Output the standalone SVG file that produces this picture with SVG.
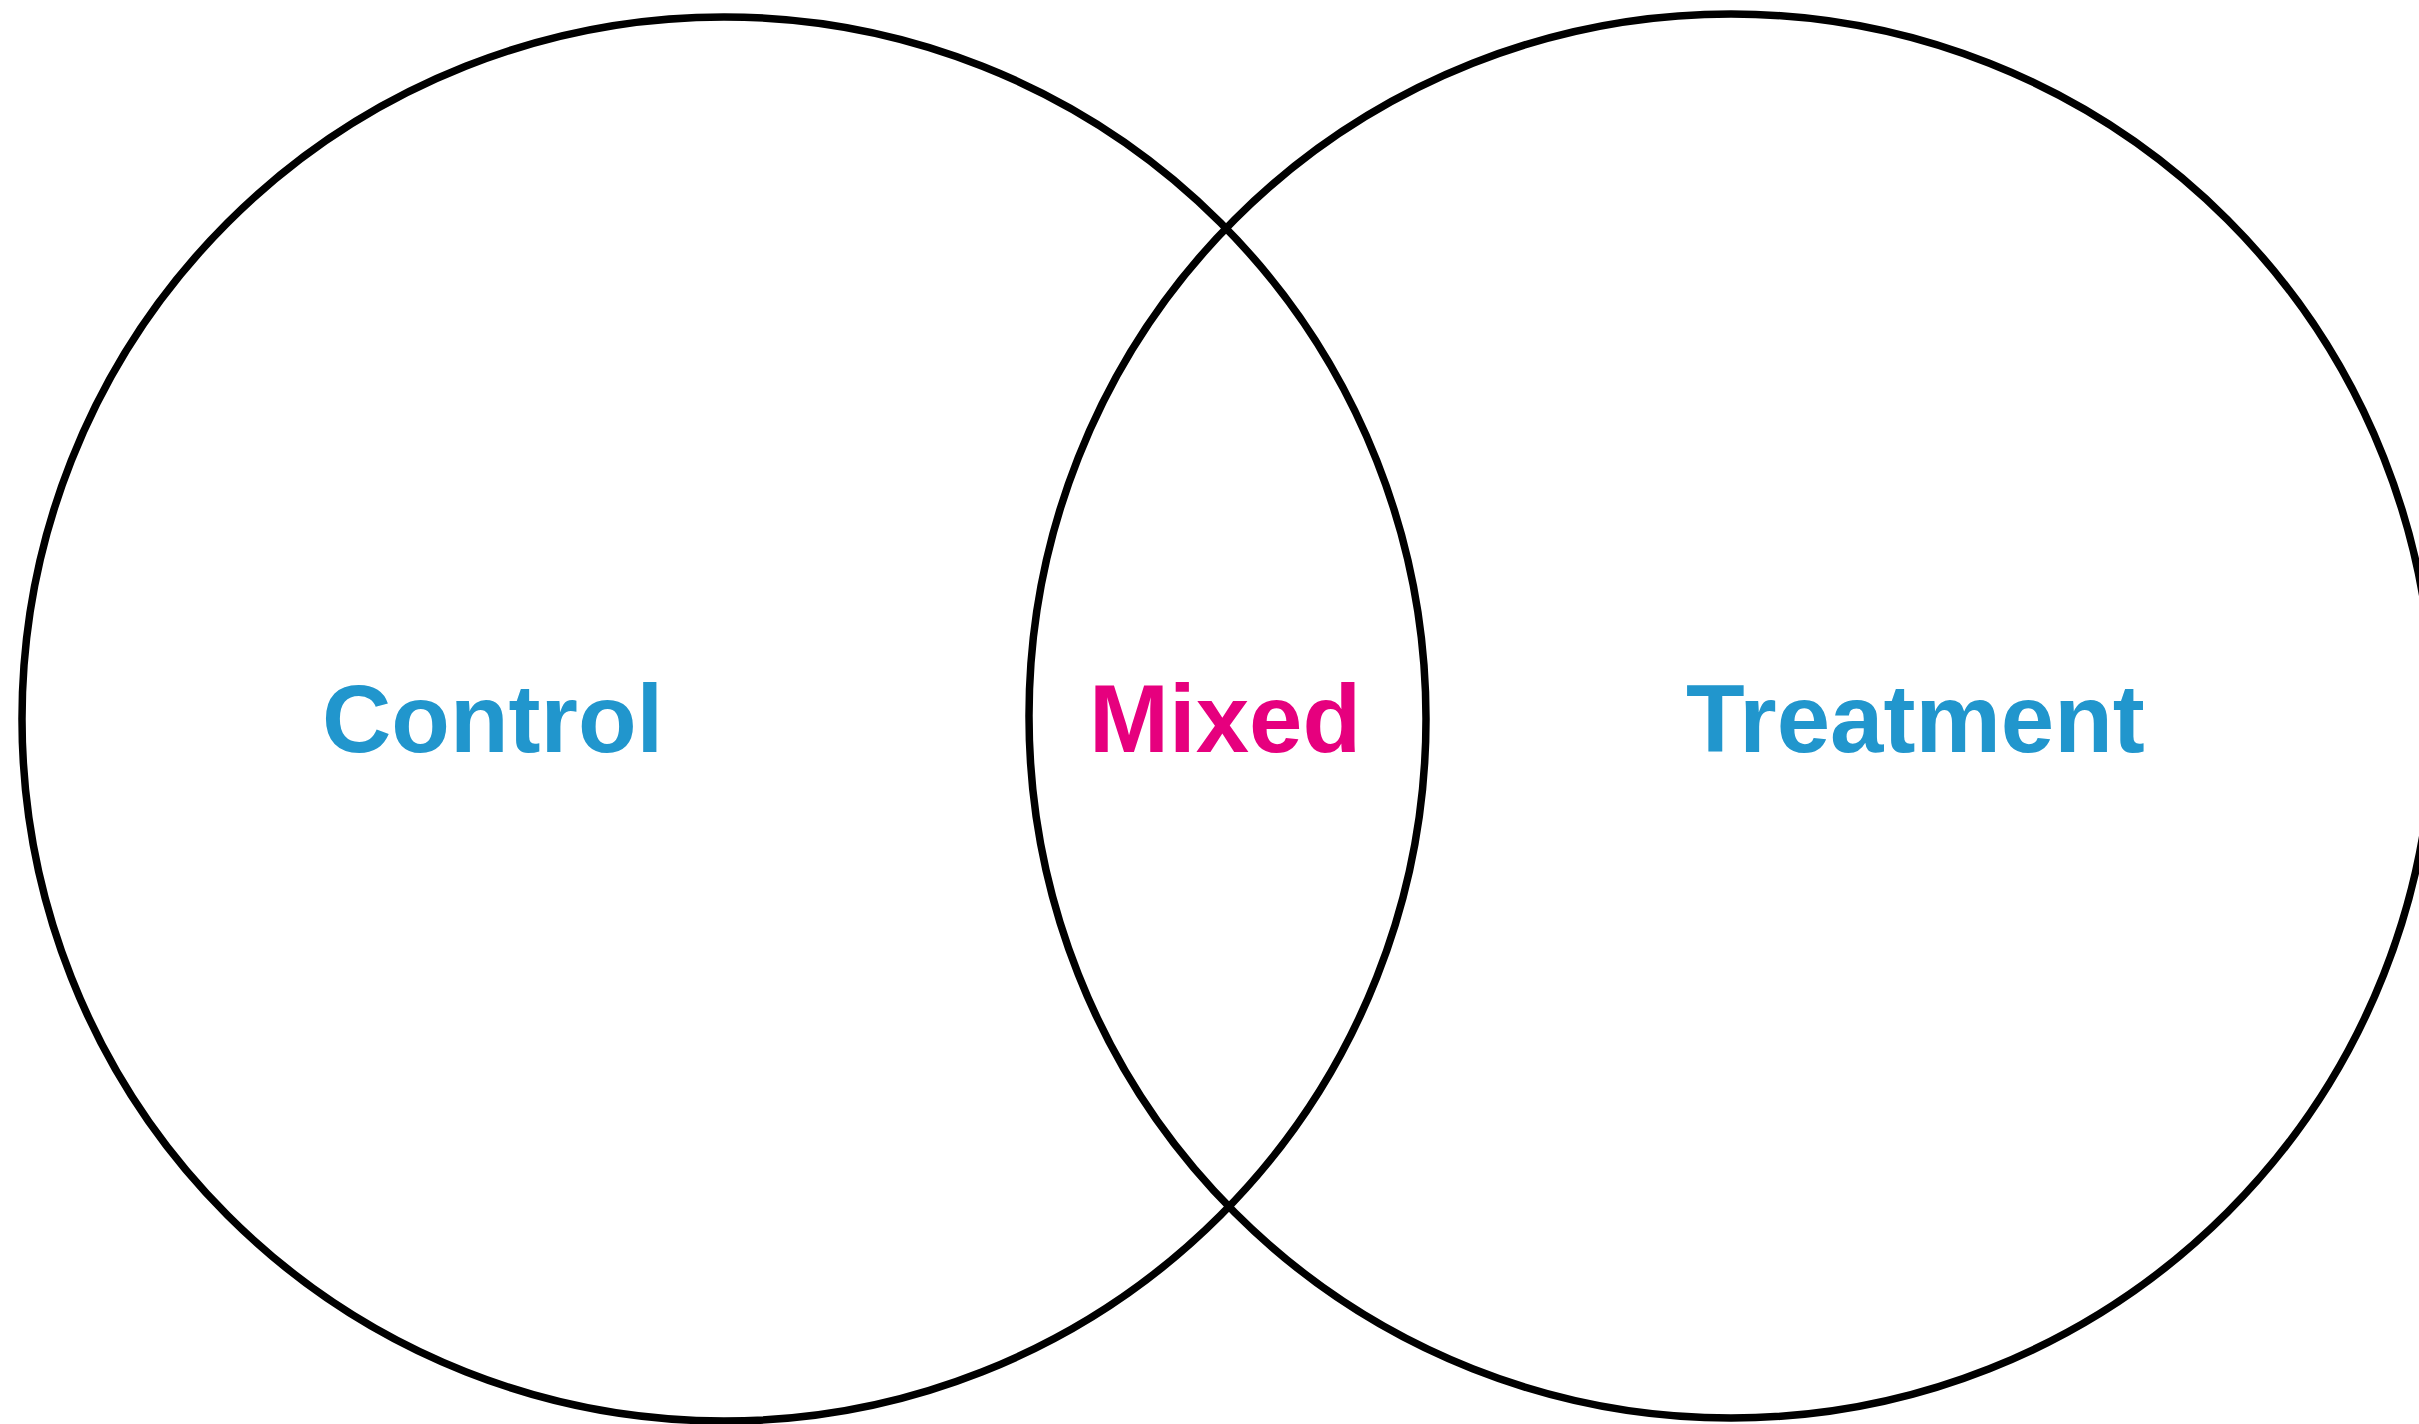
<svg xmlns="http://www.w3.org/2000/svg" width="2419" height="1424" viewBox="0 0 2419 1424">
<style>
.set{fill:none;stroke:#000;stroke-width:7.5}
.lbl{font-family:"Liberation Sans",Arial,Helvetica,sans-serif;font-weight:bold;font-size:96px}
.blue{fill:#2196cd}
.pink{fill:#e6007e}
</style>
<rect width="2419" height="1424" fill="#fff"/>
<g id="control">
<circle class="set" cx="724" cy="719" r="702"/>
<text class="lbl blue" x="322" y="752">Control</text>
</g>
<g id="treatment">
<circle class="set" cx="1731" cy="716" r="702"/>
<text class="lbl blue" x="1686" y="752">Treatment</text>
</g>
<g id="mixed">
<text class="lbl pink" x="1089" y="752">Mixed</text>
</g>
<g id="connectors"></g>
</svg>
